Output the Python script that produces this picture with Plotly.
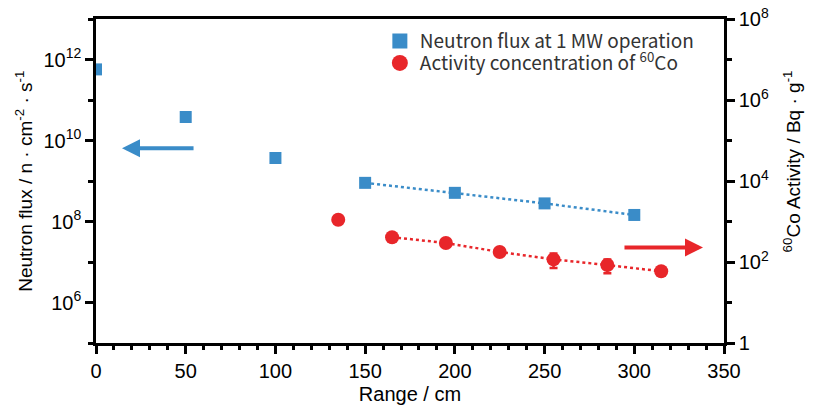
import plotly.graph_objects as go

# Neutron flux at 1 MW operation (left axis)
flux_range_cm = [0, 50, 100, 150, 200, 250, 300]
flux_values = [5.7e11, 3.8e10, 3.7e9, 9.0e8, 5.1e8, 2.8e8, 1.45e8]

# 60Co activity concentration (right axis)
co_range_cm = [135, 165, 195, 225, 255, 285, 315]
co_values = [1.1e3, 4.1e2, 2.95e2, 1.77e2, 1.16e2, 84, 59]
co_errors = [0, 0, 0, 0, 45, 31, 0]

# first point of each dotted trend segment
flux_trend_start = 3
co_trend_start = 1

x_ticks = [0, 50, 100, 150, 200, 250, 300, 350]
left_exponents = [6, 8, 10, 12]
left_minor_exponents = [5, 7, 9, 11, 13]
right_exponents = [0, 2, 4, 6, 8]
right_minor_exponents = [1, 3, 5, 7]

BLUE = "#3A8CC8"
RED = "#E8262A"
AXIS_FONT = "Liberation Sans, Arial, sans-serif"
LEGEND_FONT = dict(family="Noto Sans CJK JP, sans-serif", size=19, color="#333333")

fig = go.Figure()

fig.add_trace(go.Scatter(
    x=flux_range_cm[flux_trend_start:], y=flux_values[flux_trend_start:],
    mode="lines", line=dict(color=BLUE, width=2.5, dash="dot"),
    showlegend=False, hoverinfo="skip", yaxis="y"))
fig.add_trace(go.Scatter(
    x=co_range_cm[co_trend_start:], y=co_values[co_trend_start:],
    mode="lines", line=dict(color=RED, width=2.5, dash="dot"),
    showlegend=False, hoverinfo="skip", yaxis="y2"))

fig.add_trace(go.Scatter(
    x=flux_range_cm, y=flux_values, mode="markers",
    marker=dict(symbol="square", size=12, color=BLUE),
    showlegend=False, yaxis="y"))
fig.add_trace(go.Scatter(
    x=co_range_cm, y=co_values, mode="markers",
    marker=dict(symbol="circle", size=14, color=RED),
    error_y=dict(type="data", array=co_errors, color=RED, thickness=2.5, width=4),
    showlegend=False, yaxis="y2"))

# legend entries (larger symbols than the plotted markers)
fig.add_trace(go.Scatter(
    x=[None], y=[None], mode="markers", name="Neutron flux at 1 MW operation",
    marker=dict(symbol="square", size=15, color=BLUE), legend="legend", yaxis="y"))
fig.add_trace(go.Scatter(
    x=[None], y=[None], mode="markers", name="Activity concentration of <sup>60</sup>Co",
    marker=dict(symbol="circle", size=16, color=RED), legend="legend2", yaxis="y2"))


def sup_label(e):
    return "1" if e == 0 else f"10<sup>{e}</sup>"


def minor_ticks(exps):
    return dict(tickmode="array", tickvals=[10 ** e for e in exps],
                ticklen=5, tickwidth=2.5, tickcolor="black", ticks="outside")


axis_common = dict(
    showline=True, linecolor="black", linewidth=2.5,
    ticks="outside", ticklen=8, tickwidth=2.5, tickcolor="black",
    showgrid=False, zeroline=False, automargin=False,
    tickfont=dict(family=AXIS_FONT, size=20, color="black"),
)

legend_common = dict(
    xanchor="left", yanchor="middle", bgcolor="rgba(0,0,0,0)", borderwidth=0,
    font=LEGEND_FONT, itemsizing="trace",
)

fig.update_layout(
    width=813, height=407,
    margin=dict(l=96, r=89, t=19, b=64),
    paper_bgcolor="white", plot_bgcolor="white",
    xaxis=dict(
        range=[0, 350], tickvals=x_ticks, mirror=True,
        minor=dict(dtick=10, tick0=0, ticklen=4, tickwidth=2.5, tickcolor="black", ticks="outside"),
        title=dict(text="Range / cm", font=dict(family=AXIS_FONT, size=20, color="black"), standoff=7),
        **axis_common),
    yaxis=dict(
        type="log", range=[5, 13],
        tickmode="array", tickvals=[10 ** e for e in left_exponents],
        ticktext=[sup_label(e) for e in left_exponents],
        minor=minor_ticks(left_minor_exponents),
        **axis_common),
    yaxis2=dict(
        type="log", range=[0, 8], overlaying="y", side="right",
        tickmode="array", tickvals=[10 ** e for e in right_exponents],
        ticktext=[sup_label(e) for e in right_exponents],
        minor=minor_ticks(right_minor_exponents),
        **axis_common),
    legend=dict(x=0.452, y=0.932, **legend_common),
    legend2=dict(x=0.452, y=0.864, **legend_common),
)

# axis titles
fig.add_annotation(
    text="Neutron flux / n · cm<sup>-2</sup> · s<sup>-1</sup>",
    xref="paper", yref="paper", x=-0.115, y=0.5, xanchor="center", yanchor="middle",
    textangle=-90, showarrow=False, font=dict(family=AXIS_FONT, size=19, color="black"))
fig.add_annotation(
    text="<sup>60</sup>Co Activity / Bq · g<sup>-1</sup>",
    xref="paper", yref="paper", x=1.108, y=0.56, xanchor="center", yanchor="middle",
    textangle=-90, showarrow=False, font=dict(family=AXIS_FONT, size=19, color="black"))

# direction arrows pointing to the axis each series belongs to
fig.add_annotation(
    x=14.5, y=9.81, ax=55.2, ay=9.81, xref="x", yref="y", axref="x", ayref="y",
    text="", showarrow=True, arrowhead=2, arrowsize=0.9, arrowwidth=4, arrowcolor=BLUE, standoff=0)
fig.add_annotation(
    x=338.3, y=2.36, ax=293.7, ay=2.36, xref="x", yref="y2", axref="x", ayref="y2",
    text="", showarrow=True, arrowhead=2, arrowsize=0.9, arrowwidth=4, arrowcolor=RED, standoff=0)

fig.write_html("out.html")
